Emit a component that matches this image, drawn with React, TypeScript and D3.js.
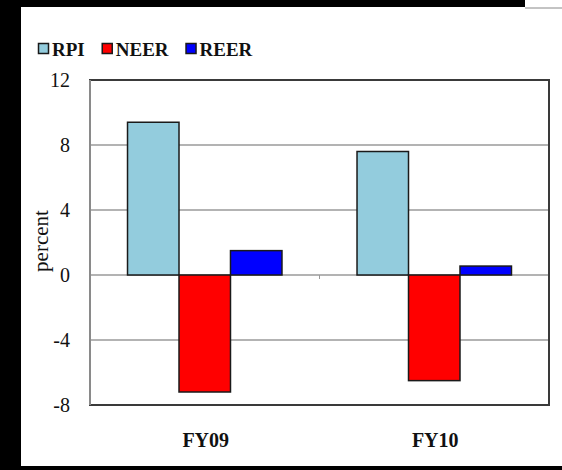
import React, { useEffect, useRef } from "react";
import * as d3 from "d3";

// Fiscal years on the category axis
const categories = ["FY09", "FY10"];
// Series names shown in the legend
const seriesNames = ["RPI", "NEER", "REER"];
// Percent change per series, one value per fiscal year
const rpiValues = [9.4, 7.6];
const neerValues = [-7.2, -6.5];
const reerValues = [1.5, 0.55];
// Value-axis ticks
const yTicks = [-8, -4, 0, 4, 8, 12];

const WIDTH = 562;
const HEIGHT = 470;
const COLORS = ["#93CCDD", "#FF0000", "#0000FF"];

export default function App() {
  const ref = useRef<SVGSVGElement | null>(null);

  useEffect(() => {
    const svg = d3.select(ref.current);
    svg.selectAll("*").remove();

    const seriesValues = [rpiValues, neerValues, reerValues];
    const plot = { left: 90, right: 549, top: 80, bottom: 405 };

    // Page backdrop: white card with a dark frame on three sides
    svg.append("rect").attr("width", WIDTH).attr("height", HEIGHT).attr("fill", "#ffffff");
    svg.append("rect").attr("x", 0).attr("y", 0).attr("width", 21).attr("height", HEIGHT).attr("fill", "#000");
    svg.append("rect").attr("x", 0).attr("y", 0).attr("width", 525).attr("height", 7).attr("fill", "#000");
    svg.append("line").attr("x1", 525).attr("x2", WIDTH).attr("y1", 8).attr("y2", 8).attr("stroke", "#888").attr("stroke-width", 1);
    svg.append("rect").attr("x", 0).attr("y", 466).attr("width", WIDTH).attr("height", 4).attr("fill", "#000");

    const y = d3.scaleLinear().domain([-8, 12]).range([plot.bottom, plot.top]);
    const x = d3.scaleBand<string>().domain(categories).range([plot.left, plot.right]).paddingInner(0).paddingOuter(0);
    const groupWidth = x.bandwidth() * 0.673;
    const xs = d3.scaleBand<string>().domain(seriesNames).range([0, groupWidth]).padding(0);
    const groupOffset = (x.bandwidth() - groupWidth) / 2;

    // Horizontal gridlines
    svg.append("g")
      .selectAll("line")
      .data(yTicks.filter((t) => t !== -8 && t !== 12))
      .join("line")
      .attr("x1", plot.left)
      .attr("x2", plot.right)
      .attr("y1", (d) => y(d))
      .attr("y2", (d) => y(d))
      .attr("stroke", "#9a9a9a")
      .attr("stroke-width", 1.5);

    // Category tick marks on the zero line
    svg.append("g")
      .selectAll("line")
      .data(categories.slice(1))
      .join("line")
      .attr("x1", (d) => x(d)!)
      .attr("x2", (d) => x(d)!)
      .attr("y1", y(0))
      .attr("y2", y(0) + 4)
      .attr("stroke", "#9a9a9a")
      .attr("stroke-width", 1);

    // Bars
    seriesNames.forEach((name, si) => {
      svg.append("g")
        .selectAll("rect")
        .data(categories.map((c, ci) => ({ c, v: seriesValues[si][ci] })))
        .join("rect")
        .attr("x", (d) => x(d.c)! + groupOffset + xs(name)!)
        .attr("width", xs.bandwidth())
        .attr("y", (d) => y(Math.max(0, d.v)))
        .attr("height", (d) => Math.abs(y(d.v) - y(0)))
        .attr("fill", COLORS[si])
        .attr("stroke", "#1a1a1a")
        .attr("stroke-width", 1.5);
    });

    // Plot frame
    svg.append("rect")
      .attr("x", plot.left)
      .attr("y", plot.top)
      .attr("width", plot.right - plot.left)
      .attr("height", plot.bottom - plot.top)
      .attr("fill", "none")
      .attr("stroke", "#3a3a3a")
      .attr("stroke-width", 2);
    svg.append("line")
      .attr("x1", plot.left).attr("x2", plot.left)
      .attr("y1", plot.top).attr("y2", plot.bottom)
      .attr("stroke", "#8a8a8a").attr("stroke-width", 2);

    const font = "'Liberation Serif', 'Times New Roman', serif";

    // Value-axis labels
    svg.append("g")
      .selectAll("text")
      .data(yTicks)
      .join("text")
      .attr("x", 70)
      .attr("y", (d) => y(d))
      .attr("dy", "0.35em")
      .attr("text-anchor", "end")
      .attr("font-family", font)
      .attr("font-size", 20)
      .attr("fill", "#111")
      .text((d) => String(d));

    // Axis title
    svg.append("text")
      .attr("transform", `translate(48, ${241}) rotate(-90)`)
      .attr("text-anchor", "middle")
      .attr("font-family", font)
      .attr("font-size", 21)
      .attr("fill", "#111")
      .text("percent");

    // Category labels
    svg.append("g")
      .selectAll("text")
      .data(categories)
      .join("text")
      .attr("x", (d) => x(d)! + x.bandwidth() / 2 + 1)
      .attr("y", 447)
      .attr("text-anchor", "middle")
      .attr("font-family", font)
      .attr("font-size", 20)
      .attr("font-weight", "bold")
      .attr("fill", "#111")
      .text((d) => d);

    // Legend
    const legend = svg.append("g");
    let cx = 38;
    seriesNames.forEach((name, i) => {
      legend.append("rect")
        .attr("x", cx + 0.5)
        .attr("y", 43.5)
        .attr("width", 10)
        .attr("height", 10)
        .attr("fill", COLORS[i])
        .attr("stroke", "#1a1a1a")
        .attr("stroke-width", 1.5);
      const t = legend.append("text")
        .attr("x", cx + 14)
        .attr("y", 55.5)
        .attr("font-family", font)
        .attr("font-size", 19)
        .attr("font-weight", "bold")
        .attr("fill", "#111")
        .text(name);
      const w = (t.node() as SVGTextElement).getComputedTextLength();
      cx = cx + 14 + w + 17;
    });
  }, []);

  return (
    <svg
      ref={ref}
      width={WIDTH}
      height={HEIGHT}
      style={{ position: "absolute", left: 0, top: 0, display: "block" }}
    />
  );
}
